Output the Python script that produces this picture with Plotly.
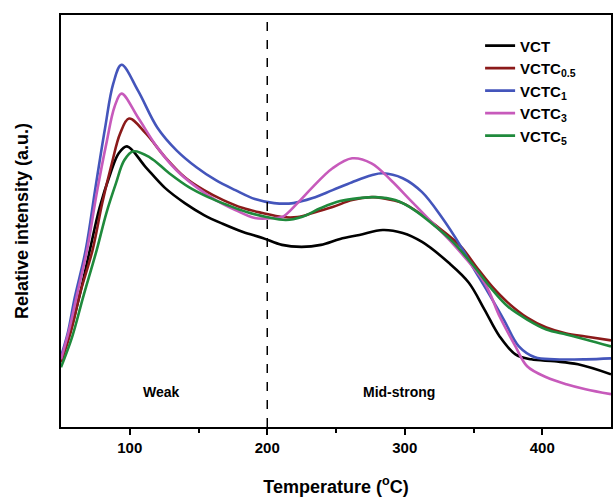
import plotly.graph_objects as go

names = ["<b>VCT</b>", "<b>VCTC<sub>0.5</sub></b>", "<b>VCTC<sub>1</sub></b>", "<b>VCTC<sub>3</sub></b>", "<b>VCTC<sub>5</sub></b>"]
colors = ["#000000", "#8b1a1a", "#4455bb", "#c75abb", "#1f8a3c"]

vct_t = [50, 57, 64, 71, 78, 86, 92, 98, 111.7, 125.8, 140, 154, 168, 182.4, 196.6, 210.7, 225, 239, 253, 267, 284, 298.5, 312.6, 332, 346.6, 358, 369, 380.5, 392, 409, 426, 450]
vct_i = [68, 97, 135, 178, 220, 255, 275, 282, 261, 240, 225, 213, 204, 196, 190, 183, 181, 183, 189, 193, 198, 195, 186, 165, 145, 118, 91, 73, 68, 66, 63, 53]

c05_t = [50, 57, 64, 73, 80, 87, 93, 99.5, 111.7, 125.8, 140, 154, 168, 182.4, 196.6, 210.7, 222, 233, 247.5, 261.7, 275.8, 284, 298.5, 312.6, 326.8, 341, 352, 363.6, 375, 389, 403, 417.5, 431.5, 450]
c05_i = [65, 95, 135, 178, 225, 265, 295, 310, 295, 271, 251, 238, 228, 220, 215, 211, 211, 215, 221, 228, 231, 230, 225, 213, 198, 181, 161, 141, 125, 110, 100, 94, 91, 87]

c1_t = [50, 55, 60, 68, 75, 82, 88, 94, 106, 120, 134, 148.5, 162.6, 176.8, 191, 205, 219, 233, 247.5, 261.7, 275.8, 284, 298.5, 312.6, 326.8, 341, 349.4, 360.7, 372, 383, 394.7, 408.8, 431.5, 450]
c1_i = [71, 95, 130, 178, 240, 300, 345, 364, 338, 301, 278, 261, 248, 238, 229, 225, 225, 230, 238, 246, 253, 255, 250, 236, 211, 181, 161, 135, 108, 81, 70, 68, 68, 69]

c3_t = [50, 56, 62, 69, 76, 83, 89, 94, 106, 120, 134, 148.5, 162.6, 176.8, 191, 205, 211, 222, 233, 247.5, 261.7, 275.8, 290, 304, 318, 332.4, 358, 369, 380.5, 389, 403, 417.5, 431.5, 450]
c3_i = [68, 98, 135, 178, 235, 285, 322, 335, 311, 281, 258, 241, 228, 218, 210, 210, 211, 225, 241, 260, 270, 265, 248, 228, 208, 188, 145, 111, 81, 61, 50, 43, 38, 33]

c5_t = [50, 58, 66, 76, 83, 90, 96, 102.6, 114.5, 128.7, 143, 157, 171, 185, 199.5, 213.6, 225, 239, 253, 267, 278.7, 293, 307, 321, 335, 350, 363.6, 375, 389, 403, 417.5, 431.5, 450]
c5_i = [60, 90, 130, 178, 215, 245, 268, 277, 271, 255, 241, 231, 223, 216, 211, 208, 211, 220, 227, 230, 231, 228, 218, 203, 186, 162, 138, 121, 108, 98, 93, 88, 81]

series_t = [vct_t, c05_t, c1_t, c3_t, c5_t]
series_i = [vct_i, c05_i, c1_i, c3_i, c5_i]

x_ticks = [100, 200, 300, 400]
divider_t = 200

fig = go.Figure()
for n, c, t, i in zip(names, colors, series_t, series_i):
    fig.add_trace(go.Scatter(x=t, y=i, mode="lines", name=n,
                             line=dict(color=c, width=2.6, shape="spline", smoothing=1.0)))

fig.add_shape(type="line", x0=divider_t, x1=divider_t, y0=0, y1=1, xref="x", yref="paper",
              line=dict(color="black", width=1.5, dash="dash"))

fig.add_annotation(x=123, y=35, text="<b>Weak</b>", showarrow=False,
                   font=dict(family="Arial, Liberation Sans", size=14, color="black"))
fig.add_annotation(x=296, y=35, text="<b>Mid-strong</b>", showarrow=False,
                   font=dict(family="Arial, Liberation Sans", size=14, color="black"))

fig.update_layout(
    width=613, height=497,
    margin=dict(l=61, r=2, t=15, b=70),
    plot_bgcolor="white", paper_bgcolor="white",
    font=dict(family="Arial, Liberation Sans", color="black"),
    showlegend=True,
    legend=dict(x=0.762, y=0.965, xanchor="left", yanchor="top",
                bgcolor="rgba(0,0,0,0)", font=dict(size=15, family="Arial, Liberation Sans"),
                tracegroupgap=0, itemwidth=30),
)
fig.update_xaxes(range=[50, 450], tickvals=x_ticks, ticktext=[f"<b>{v}</b>" for v in x_ticks],
                 ticks="outside", ticklen=6, tickwidth=2, tickcolor="black",
                 minor=dict(tickvals=[150, 250, 350], ticks="outside", ticklen=4, tickwidth=2, tickcolor="black"),
                 showline=True, linecolor="black", linewidth=2, mirror=True, showgrid=False, zeroline=False,
                 tickfont=dict(size=15), automargin=False,
                 title=dict(text="<b>Temperature (<sup>o</sup>C)</b>", font=dict(size=18), standoff=26))
fig.update_yaxes(range=[0, 414], showticklabels=False, ticks="", automargin=False,
                 showline=True, linecolor="black", linewidth=2, mirror=True, showgrid=False, zeroline=False,
                 title=dict(text="<b>Relative intensity (a.u.)</b>", font=dict(size=18), standoff=26))

fig.write_html("out.html", config={"displayModeBar": False},
               post_script="document.body.style.margin='0';document.body.style.overflow='hidden';")
